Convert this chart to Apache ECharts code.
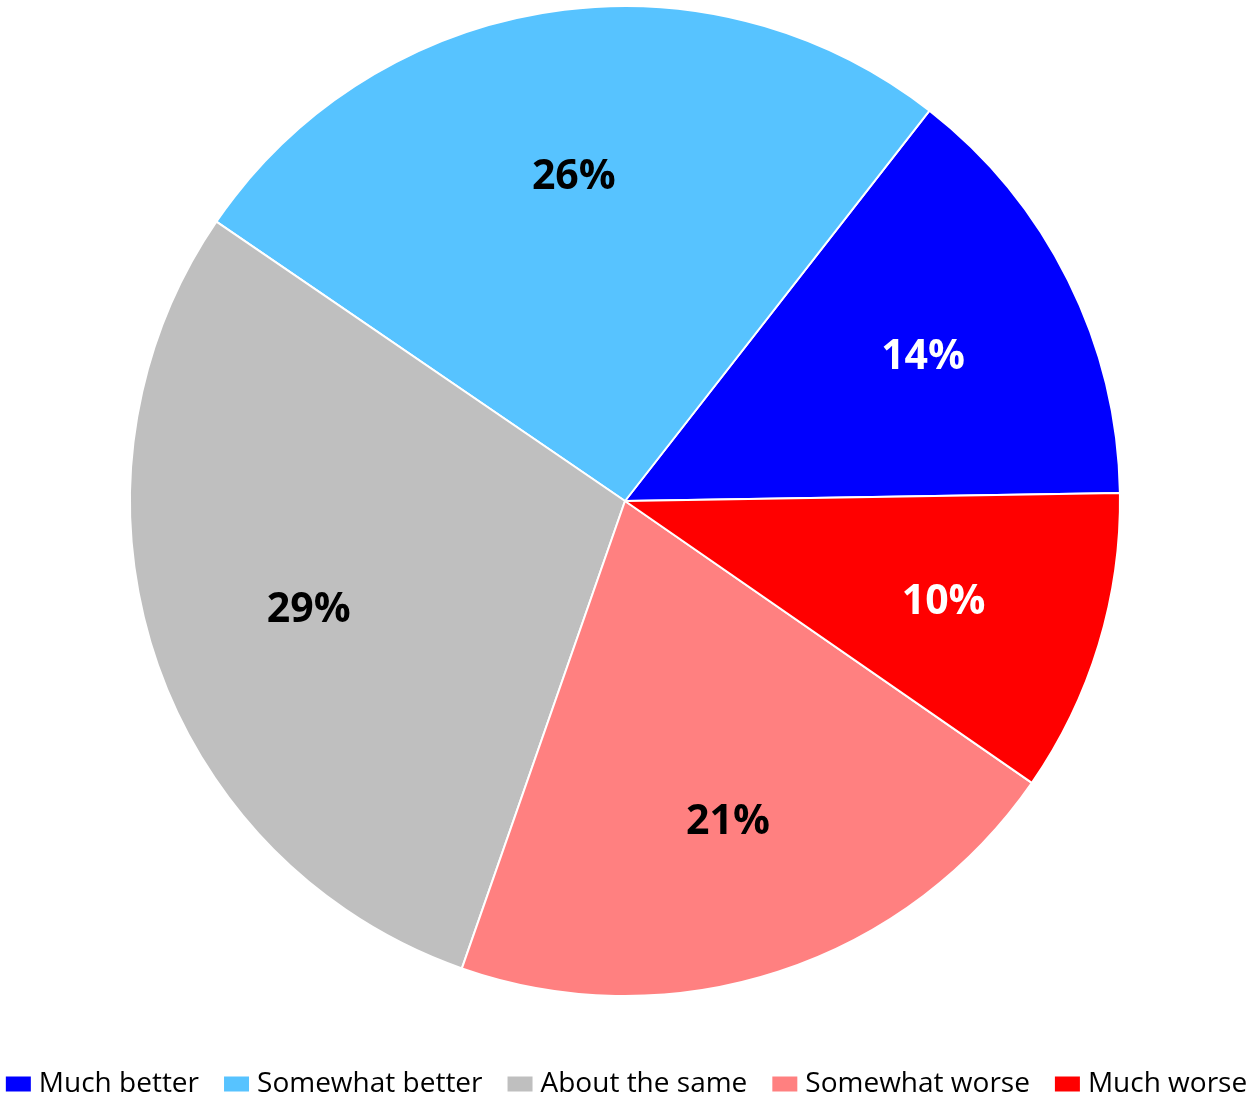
<!DOCTYPE html>
<html>
<head>
<meta charset="utf-8">
<script src="https://cdn.jsdelivr.net/npm/echarts@6/dist/echarts.min.js"></script>
<style>html,body{margin:0;padding:0;background:#fff}#c{width:1251px;height:1099px}</style>
</head>
<body>
<div id="c"></div>
<script>
const categories = ["Much better", "Somewhat better", "About the same", "Somewhat worse", "Much worse"];
const values = [14.2, 26.0, 29.2, 20.7, 9.9];
const colors = ["#0000FF", "#57C3FF", "#BFBFBF", "#FF8080", "#FF0000"];
const labelColors = ["#FFFFFF", "#000000", "#000000", "#000000", "#FFFFFF"];

const chart = echarts.init(document.getElementById('c'), null, {renderer: 'canvas'});
const total = values.reduce((a, b) => a + b, 0);
const pieData = categories.map((n, i) => ({name: n, value: values[i], itemStyle: {color: colors[i]}}));
const labelData = categories.map((n, i) => ({
  name: n, value: values[i],
  label: {color: labelColors[i]}
}));
chart.setOption({
  animation: false,
  legend: {
    data: categories,
    top: 1070,
    left: 'center',
    padding: 0,
    icon: 'rect',
    itemWidth: 27,
    itemHeight: 17,
    itemGap: 23,
    textStyle: {fontFamily: 'Open Sans', fontSize: 28, color: '#000', padding: [0, 0, 0, 2]}
  },
  series: [
    {
      type: 'pie',
      center: [625, 501],
      radius: [0, 495],
      startAngle: 0.92,
      clockwise: false,
      label: {show: false},
      labelLine: {show: false},
      itemStyle: {borderColor: '#fff', borderWidth: 2},
      emphasis: {disabled: true},
      data: pieData
    },
    {
      type: 'pie',
      center: [625, 501],
      radius: [165, 495],
      startAngle: 0.92,
      clockwise: false,
      silent: true,
      itemStyle: {color: 'rgba(0,0,0,0)'},
      label: {
        show: true,
        position: 'inside',
        fontFamily: 'Open Sans',
        fontWeight: 'bold',
        fontSize: 41,
        offset: [0, 5],
        formatter: p => Math.round(p.value / total * 100) + '%'
      },
      labelLine: {show: false},
      emphasis: {disabled: true},
      data: labelData
    }
  ]
});
</script>
</body>
</html>
